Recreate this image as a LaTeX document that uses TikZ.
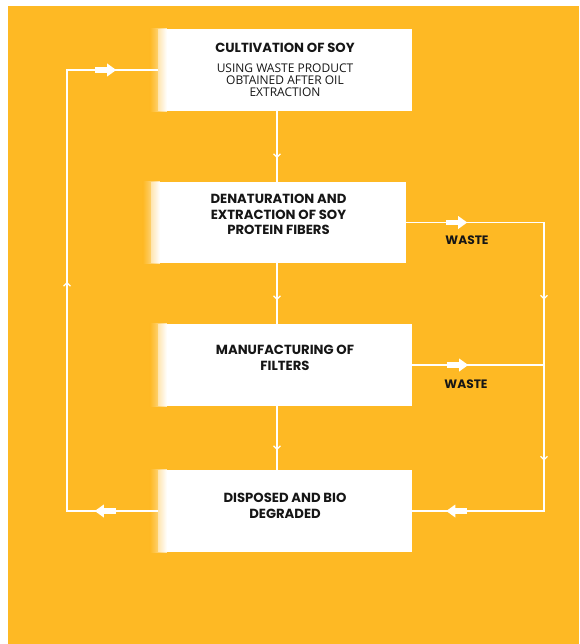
\documentclass[tikz,border=0pt]{standalone}
\usepackage{fontspec}
\setmainfont{Open Sans}
\newfontfamily\headfont{Poppins}
\usepackage{xcolor}
\usepackage{tikz}
\usetikzlibrary{arrows.meta,decorations.markings}
\definecolor{soyorange}{RGB}{254,185,36}
\definecolor{inkdark}{RGB}{22,22,22}

% thick white arrow sitting on a connector, tip at the mark
\newcommand{\blockarr}{%
  \fill[white] (-21pt,-2.6pt) rectangle (-8.5pt,2.6pt);
  \fill[white] (-9pt,-6.5pt) -- (0pt,0pt) -- (-9pt,6.5pt) -- cycle;}
\newcommand{\vtip}{\arrow[white,line width=1.3pt]{Straight Barb[length=3.5pt,width=7pt]}}
\newcommand{\headtxt}{\headfont\bfseries\fontsize{13.2pt}{15.5pt}\selectfont}
\newcommand{\subtxt}{\normalfont\fontsize{12pt}{12pt}\selectfont}

\begin{document}
\begin{tikzpicture}[x=1pt, y=-1pt,
  stage/.style={fill=white, minimum width=254pt, minimum height=82pt, inner sep=0pt},
  head/.style={font=\headtxt, align=center, text=inkdark, inner sep=0pt},
  flow/.style={draw=white, line width=1.6pt, postaction={decorate}},
  wastelbl/.style={font=\headfont\bfseries\fontsize{12.2pt}{14pt}\selectfont, text=inkdark}
]
% background
\fill[white] (0,0) rectangle (579,644);
\fill[soyorange] (8,6) rectangle (579,644);

\node[stage] (cult) at (285,70) {};
\node[stage, minimum width=255pt, minimum height=81pt] (denat) at (278.5,222.5) {};
\node[stage] (manf) at (285,365) {};
\node[stage] (disp) at (285,511) {};

\node[head] (culttxt) at (cult) {CULTIVATION OF SOY\\[4pt]
  \subtxt USING WASTE PRODUCT\\[-3.5pt]\subtxt OBTAINED AFTER OIL\\[-3.5pt]\subtxt EXTRACTION};
\node[head] (denattxt) at ([yshift=8pt]denat) {DENATURATION AND\\EXTRACTION OF SOY\\PROTEIN FIBERS};
\node[head] (manftxt) at ([yshift=7pt]manf) {MANUFACTURING OF\\FILTERS};
\node[head] (disptxt) at ([yshift=5pt]disp) {DISPOSED AND BIO\\DEGRADED};

% soft fade on the left edge of each box
\foreach \b in {cult,denat,manf,disp}
  \shade[left color=soyorange, right color=white, opacity=0.7] ([xshift=-8pt]\b.north west) rectangle ([xshift=9pt]\b.south west);

\coordinate (wj) at (544,511);
\coordinate (lj) at (67,511);
\coordinate (mid) at (277,300);

\draw[flow, decoration={markings, mark=at position 47pt with {\vtip}}] (cult.south -| mid) -- (denat.north -| mid);
\draw[flow, decoration={markings, mark=at position 37pt with {\vtip}}] (denat.south -| mid) -- (manf.north -| mid);
\draw[flow, decoration={markings, mark=at position 44pt with {\vtip}}] (manf.south -| mid) -- (disp.north -| mid);

% waste loop on the right
\draw[flow, decoration={markings, mark=at position 61pt with {\blockarr},
  mark=at position 215pt with {\vtip}, mark=at position 376pt with {\vtip},
  mark=at position 524pt with {\blockarr}}] (denat.east) -| (wj) -- (disp.east);
\draw[flow, decoration={markings, mark=at position 56pt with {\blockarr}}] (manf.east) -- (manf.east -| wj);
\node[wastelbl] (w1) at (467,240) {WASTE};
\node[wastelbl] (w2) at (466,384) {WASTE};

% return loop on the left
\draw[flow, decoration={markings, mark=at position 63pt with {\blockarr},
  mark=at position 320pt with {\vtip}, mark=at position 581pt with {\blockarr}}] (disp.west) -- (lj) |- (cult.west);
\end{tikzpicture}
\end{document}
